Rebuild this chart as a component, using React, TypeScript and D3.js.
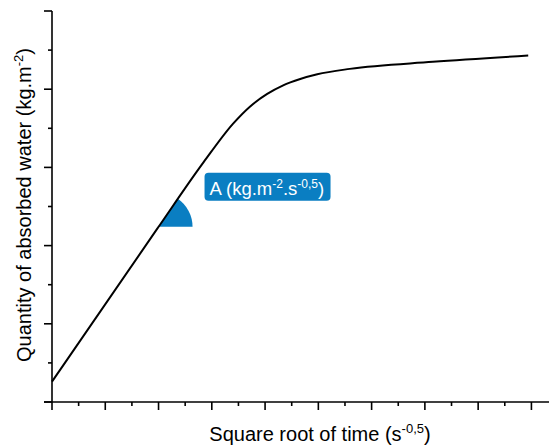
import React from "react";
import * as d3 from "d3";

const sqrtTime = [0, 1.97, 2.85, 3.4, 3.72, 4.04, 4.34, 4.66, 4.98, 5.59, 7.15, 8.94];
const absorbed = [0.26, 2.21, 3.07, 3.56, 3.78, 3.94, 4.05, 4.13, 4.19, 4.26, 4.35, 4.43];
const xMajorTicks = [0, 1, 2, 3, 4, 5, 6, 7, 8, 9];
const xMinorTicks = [0.5, 1.5, 2.5, 3.5, 4.5, 5.5, 6.5, 7.5, 8.5];
const yMajorTicks = [0, 1, 2, 3, 4, 5];
const yMinorTicks = [0.5, 1.5, 2.5, 3.5, 4.5];
const slopePoint = 2.0;

const W = 550;
const H = 448;
const FONT = "'Liberation Sans', Arial, sans-serif";

export default function App() {
  const x = d3.scaleLinear().domain([0, 9.33]).range([52, 549]);
  const y = d3.scaleLinear().domain([0, 5]).range([402, 11]);
  const pts: [number, number][] = sqrtTime.map((t, i) => [x(t), y(absorbed[i])]);
  const line = d3.line().curve(d3.curveMonotoneX)(pts) || "";

  // wedge at slope point
  const cx = x(slopePoint);
  const cy = y(absorbed[0] + (absorbed[1] - absorbed[0]) / (sqrtTime[1] - sqrtTime[0]) * slopePoint);
  const dxp = x(sqrtTime[1]) - x(sqrtTime[0]);
  const dyp = y(absorbed[0]) - y(absorbed[1]);
  const theta = Math.atan2(dyp, dxp);
  const wedge = d3.arc()({ innerRadius: 0, outerRadius: 34, startAngle: Math.PI / 2 - theta, endAngle: Math.PI / 2 }) || "";

  const bx = cx + 46;
  const by = cy - 54;

  return (
    <svg width={W} height={H} style={{ position: "absolute", left: 0, top: 0, background: "#fff" }} fontFamily={FONT}>
      <rect width={W} height={H} fill="#fff" />
      {/* axes */}
      <line x1={x(0)} x2={x(0)} y1={y(0)} y2={y(5)} stroke="#000" strokeWidth={1.6} />
      <line x1={x(0) - 8} x2={549} y1={y(0)} y2={y(0)} stroke="#000" strokeWidth={1.6} />
      {yMajorTicks.map((v) => (
        <line key={"ym" + v} x1={x(0) - 8} x2={x(0)} y1={y(v)} y2={y(v)} stroke="#000" strokeWidth={1.6} />
      ))}
      {yMinorTicks.map((v) => (
        <line key={"yn" + v} x1={x(0) - 4} x2={x(0)} y1={y(v)} y2={y(v)} stroke="#000" strokeWidth={1.6} />
      ))}
      {xMajorTicks.map((v) => (
        <line key={"xm" + v} x1={x(v)} x2={x(v)} y1={y(0)} y2={y(0) + 8} stroke="#000" strokeWidth={1.6} />
      ))}
      {xMinorTicks.map((v) => (
        <line key={"xn" + v} x1={x(v)} x2={x(v)} y1={y(0)} y2={y(0) + 4} stroke="#000" strokeWidth={1.6} />
      ))}
      {/* wedge */}
      <path d={wedge} transform={`translate(${cx},${cy})`} fill="#0a7ec2" />
      {/* curve */}
      <path d={line} fill="none" stroke="#000" strokeWidth={2} />
      {/* label box */}
      <rect x={bx} y={by} width={126} height={28} rx={4} fill="#0a7ec2" />
      <text x={bx + 5} y={by + 22} fill="#fff" fontSize={18.5}>
        A (kg.m<tspan fontSize={12} dy={-7}>-2</tspan>
        <tspan dy={7}>.s</tspan>
        <tspan fontSize={12} dy={-7}>-0,5</tspan>
        <tspan dy={7}>)</tspan>
      </text>
      {/* axis titles */}
      <text x={320} y={441} textAnchor="middle" fontSize={20} fill="#000">
        Square root of time (s<tspan fontSize={13} dy={-8}>-0,5</tspan>
        <tspan dy={8}>)</tspan>
      </text>
      <text transform="translate(31,205) rotate(-90)" textAnchor="middle" fontSize={20} fill="#000">
        Quantity of absorbed water (kg.m<tspan fontSize={13} dy={-8}>-2</tspan>
        <tspan dy={8}>)</tspan>
      </text>
    </svg>
  );
}
